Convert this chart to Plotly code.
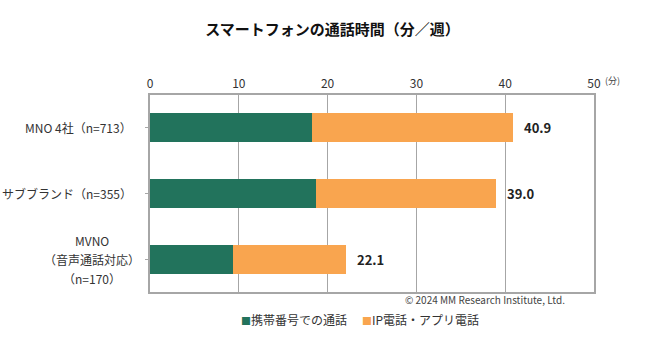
import plotly.graph_objects as go

categories = ["MNO 4社（n=713）", "サブブランド（n=355）", "MVNO<br>（音声通話対応）<br>（n=170）"]
mobile_call = [18.2, 18.7, 9.4]
ip_call = [22.7, 20.3, 12.7]
totals = [40.9, 39.0, 22.1]
total_labels = ["40.9", "39.0", "22.1"]
series_names = ["携帯番号での通話", "IP電話・アプリ電話"]
x_ticks = [0, 10, 20, 30, 40, 50]

FONT = "Noto Sans CJK JP, Noto Sans, sans-serif"
GREEN = "#22735C"
ORANGE = "#F9A54F"
colors = [GREEN, ORANGE]

cat_ids = [0, 1, 2]

fig = go.Figure()
fig.add_trace(go.Bar(y=cat_ids, x=mobile_call, orientation="h", name=series_names[0],
                     marker=dict(color=GREEN, line=dict(width=0)), width=0.44))
fig.add_trace(go.Bar(y=cat_ids, x=ip_call, orientation="h", name=series_names[1],
                     marker=dict(color=ORANGE, line=dict(width=0)), width=0.44))

annotations = []
for i, (t, lab) in enumerate(zip(totals, total_labels)):
    annotations.append(dict(x=t, y=i, xref="x", yref="y", text=f"<b>{lab}</b>",
                            showarrow=False, xanchor="left", xshift=9,
                            font=dict(size=13, color="#222222", family=FONT)))
for i, c in enumerate(categories):
    lines = c.split("<br>")
    if len(lines) == 1:
        annotations.append(dict(x=0, y=i, xref="paper", yref="y", text=c, showarrow=False,
                                xanchor="right", xshift=-16,
                                font=dict(size=12, color="#333333", family=FONT)))
    else:
        n = len(lines)
        for k, ln in enumerate(lines):
            annotations.append(dict(x=0, y=i, xref="paper", yref="y", text=ln, showarrow=False,
                                    xanchor="center", xshift=-58,
                                    yshift=((n - 1) / 2 - k) * 19,
                                    font=dict(size=12, color="#333333", family=FONT)))
annotations.append(dict(x=1, y=1, xref="paper", yref="paper", text="(分)", showarrow=False,
                        xanchor="left", yanchor="bottom", xshift=9, yshift=6,
                        font=dict(size=9, color="#444444", family=FONT)))
annotations.append(dict(x=0.94, y=0, xref="paper", yref="paper",
                        text="© 2024 MM Research Institute, Ltd.", showarrow=False,
                        xanchor="right", yanchor="top", yshift=2,
                        font=dict(size=10, color="#444444", family=FONT)))
# legend drawn as text entries below the plot
leg_x = [0.2, 0.472]
for name, col, lx in zip(series_names, colors, leg_x):
    annotations.append(dict(x=lx, y=-0.142, xref="paper", yref="paper",
                            text=f"<span style='color:{col};font-size:10px'>■</span>{name}",
                            showarrow=False, xanchor="left", yanchor="middle",
                            font=dict(size=12, color="#333333", family=FONT)))

fig.update_layout(
    barmode="stack",
    width=665, height=349,
    margin=dict(l=150, r=71, t=95, b=57),
    paper_bgcolor="white", plot_bgcolor="white",
    font=dict(family=FONT, size=12, color="#333333"),
    title=dict(text="<b>スマートフォンの通話時間（分／週）</b>", x=0.5, xanchor="center",
               y=0.915, yanchor="middle", font=dict(size=15, color="#111111", family=FONT)),
    xaxis=dict(side="top", range=[0, 50], tickvals=x_ticks, ticks="", showgrid=True,
               gridcolor="#A6A6A6", gridwidth=1, showline=True, linecolor="#A6A6A6",
               linewidth=1.5, mirror=True, zeroline=False, fixedrange=True,
               tickfont=dict(size=12, color="#333333")),
    yaxis=dict(tickvals=cat_ids, range=[2.5, -0.5], showticklabels=False, ticks="outside",
               tickson="boundaries", ticklen=3, tickcolor="#A6A6A6", showgrid=False,
               showline=True, linecolor="#A6A6A6", linewidth=1.5, mirror=True, zeroline=False),
    annotations=annotations,
    showlegend=False,
)

fig.write_html("out.html")
